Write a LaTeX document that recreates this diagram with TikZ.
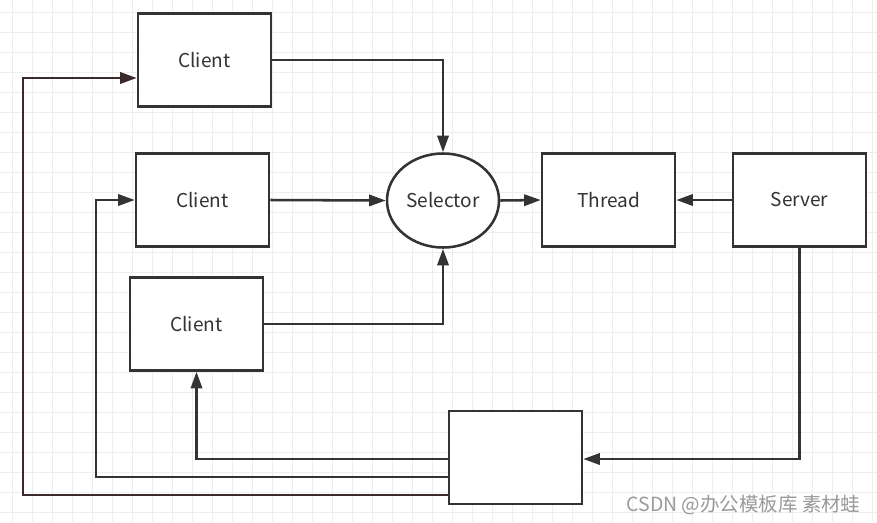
\documentclass[tikz,border=0pt]{standalone}
\usepackage{fontspec}
\setmainfont{Noto Sans CJK SC}
\usetikzlibrary{arrows.meta,shapes.geometric,calc}
\definecolor{ink}{HTML}{333333}
\definecolor{gridc}{HTML}{EEEEEE}
\definecolor{outer}{HTML}{3C2A2A}
\definecolor{wm}{HTML}{9A9A9A}
\tikzset{
  box/.style={draw=ink, line width=1.9pt, fill=white, rectangle,
    minimum width=99.75pt, minimum height=69.75pt, inner sep=0pt,
    text=ink, font=\fontsize{14.3}{16}\selectfont},
  ell/.style={draw=ink, line width=1.9pt, fill=white, ellipse,
    minimum width=84pt, minimum height=70.5pt, inner sep=0pt,
    text=ink, font=\fontsize{14.3}{16}\selectfont},
  conn/.style={draw=ink, line width=1.9pt, -{Triangle[length=12.5pt,width=8.5pt]}},
}
\begin{document}
\begin{tikzpicture}[x=0.75pt,y=-0.75pt]
\useasboundingbox (0,0) rectangle (877,522);
\fill[white] (0,0) rectangle (877,522);
\foreach \i in {12,32,...,872} \draw[gridc, line width=0.75pt] (\i,0) -- (\i,522);
\foreach \j in {12,32,...,512} \draw[gridc, line width=0.75pt] (0,\j) -- (877,\j);

\node[box] (c1) at (204.5,60) {Client};
\node[box] (c2) at (202.5,200) {Client};
\node[box] (c3) at (196.5,324) {Client};
\node[ell] (sel) at (443,200.5) {Selector};
\node[box] (thread) at (608.5,200) {Thread};
\node[box] (server) at (799.5,200) {Server};
\node[box] (bot) at (515.5,457.5) {};

\coordinate (k2) at (96,477);
\coordinate (k3) at (23,495);

\draw[conn] (c1.east) -| (sel.north);
\draw[conn] (c2.east) -- (sel.west);
\draw[conn] (c3.east) -| (sel.south);
\draw[conn] (sel.east) -- (thread.west);
\draw[conn] (server.west) -- (thread.east);
\draw[conn] (server.south) |- ($(bot.east)+(0,1.5)$);
\draw[conn] ($(bot.west)+(0,1.5)$) -| (c3.south);
\draw[conn] ($(bot.west)+(0,19.5)$) -- (k2) |- (c2.west);
\draw[conn, draw=outer] ($(bot.west)+(0,37.5)$) -- (k3) |- ($(c1.west)+(0,18)$);

\node[text=wm, font=\fontsize{14.6}{16}\selectfont, anchor=center] (wmk) at (743.5,505) {CSDN @办公模板库 素材蛙};
\end{tikzpicture}
\end{document}
